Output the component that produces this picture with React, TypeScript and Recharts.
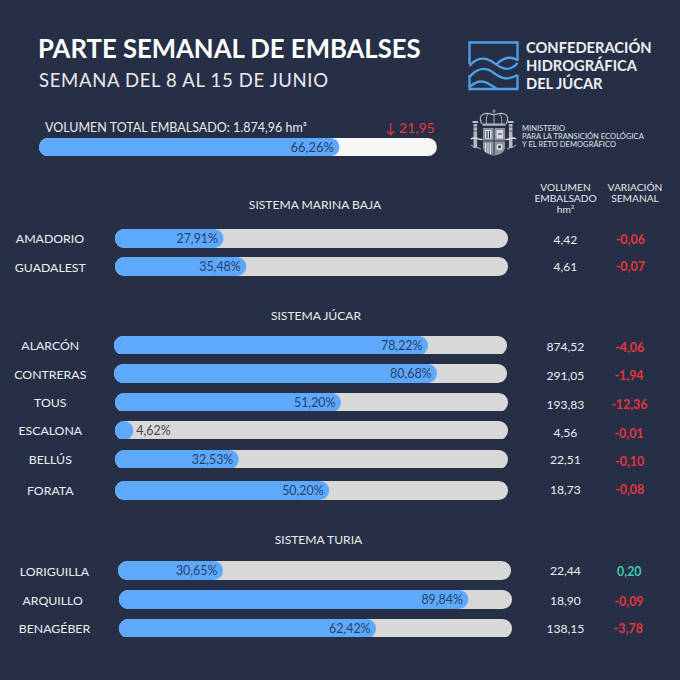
import React from "react";
import { BarChart, Bar, XAxis, YAxis, LabelList } from "recharts";

const FONT = "Lato, 'Open Sans', sans-serif";
const BG = "#272f46";
const BLUE = "#5fa9fc";
const GREY = "#d9d8d8";
const INK = "#243f6e";
const RED = "#e4363c";
const GREEN = "#3ccaa4";
const LOGO = "#4aa3ea";

// Data
const names = ["AMADORIO", "GUADALEST", "ALARCÓN", "CONTRERAS", "TOUS", "ESCALONA", "BELLÚS", "FORATA", "LORIGUILLA", "ARQUILLO", "BENAGÉBER"];
const percentLabels = ["27,91%", "35,48%", "78,22%", "80,68%", "51,20%", "4,62%", "32,53%", "50,20%", "30,65%", "89,84%", "62,42%"];
// Share of the track that each blue fill covers
const fillLengths = [27.6, 33.4, 79.9, 82.2, 57.5, 4.66, 31.5, 54.5, 26.7, 88.9, 65.4];
const volumes = ["4,42", "4,61", "874,52", "291,05", "193,83", "4,56", "22,51", "18,73", "22,44", "18,90", "138,15"];
const variations = ["-0,06", "-0,07", "-4,06", "-1,94", "-12,36", "-0,01", "-0,10", "-0,08", "0,20", "-0,09", "-3,78"];
const totalFillLength = 75.5;
const totalPercentLabel = "66,26%";

// Layout of each row
const barLeft = [114.5, 114.5, 114, 114, 114.5, 114.5, 114.5, 114.5, 118, 118.5, 118.7];
const barTop = [229.3, 257, 335.5, 364.3, 392.7, 420.7, 449.7, 481, 561.3, 590, 618.5];
const barWidth = 393;
const barHeight = 18.5;
const nameCx = [50, 50.3, 50.3, 50.3, 50.3, 50.3, 50.3, 50.3, 54.5, 52.7, 54.5];
const nameBase = [243.3, 271.7, 350, 378.7, 407.3, 435.3, 464, 495.3, 576.3, 604.7, 633];
const volBase = [244.3, 271, 351.3, 380, 408.7, 437.3, 464.3, 494, 575.3, 604.7, 632.7];
const varCx = [630.3, 630.3, 629.7, 629, 629.3, 629, 629.7, 629.7, 629.3, 629, 628.3];
const varBase = [244.3, 271.3, 352.3, 380.3, 409.3, 438, 465.7, 494.3, 576.3, 605.7, 633];

const sections = [
  { label: "SISTEMA MARINA BAJA", cx: 315, base: 209 },
  { label: "SISTEMA JÚCAR", cx: 316, base: 320 },
  { label: "SISTEMA TURIA", cx: 318.5, base: 544 },
];

function Meter({ value, label, left, top, width, height, track, outside, fontSize = 12.4 }: {
  value: number; label: string; left: number; top: number; width: number; height: number; track: string; outside?: boolean; fontSize?: number;
}) {
  const data = [{ name: "v", value, label }];
  return (
    <div style={{ position: "absolute", left, top, width, height }}>
      <BarChart layout="vertical" width={width} height={height} data={data} margin={{ top: 0, right: 0, bottom: 0, left: 0 }} barCategoryGap={0}>
        <XAxis type="number" domain={[0, 100]} hide />
        <YAxis type="category" dataKey="name" hide />
        <Bar dataKey="value" fill={BLUE} radius={height / 2} isAnimationActive={false} background={{ fill: track, radius: height / 2 } as any}>
          <LabelList
            dataKey="label"
            position={outside ? "right" : "insideRight"}
            offset={outside ? 3 : 5.5}
            fontFamily={FONT}
            fontSize={fontSize}
            fill={outside ? "#45464c" : INK}
          />
        </Bar>
      </BarChart>
    </div>
  );
}

function Logo() {
  return (
    <g fill="none" stroke={LOGO} strokeWidth={2.3}>
      <path d="M469.5 64 V42.5 H517.5 V61" />
      <path d="M469.5 66 C476 58 484 57 491 61 C499 66 504 71 511 68 C514 67 516 65 517.5 63" />
      <path d="M496 65 C503 57 510 56 517.5 60" />
      <path d="M469.5 77 C476 69 484 67 491 71 C499 77 506 82 517.5 75" />
      <path d="M469.5 75 V89 H517.5 V75" />
      <path d="M469.5 87 C476 81 483 80 489 84 C491 85 494 87 497 89" />
    </g>
  );
}

function Arms() {
  const c = "#b4b8bf";
  return (
    <g>
      <path d="M482 124 C476 113 487 112 494 115 C501 112 512 113 506 124" fill="none" stroke={c} strokeWidth={1.1} />
      <path d="M494 115 V124 M488 114 C486 117 486 121 486.5 124 M500 114 C502 117 502 121 501.5 124" fill="none" stroke={c} strokeWidth={0.9} />
      <path d="M494 109.5 V114 M492.5 111 H495.5" stroke={c} strokeWidth={0.9} />
      <rect x={482.5} y={123.5} width={23} height={2.2} fill={c} />
      <path d="M483 128 H505 V147 C505 153 499 155 494 155.5 C489 155 483 153 483 147 Z" fill="#8f949e" />
      <rect x={493.6} y={128} width={0.9} height={27} fill={BG} />
      <rect x={483} y={140.5} width={22} height={0.9} fill={BG} />
      <rect x={485} y={130} width={6.5} height={8.5} fill="#d8dadd" />
      <rect x={496.5} y={130} width={6.5} height={8.5} fill="#d8dadd" />
      <path d="M487 131 V138 M489.5 131 V138 M498 134 H502" stroke={BG} strokeWidth={1} />
      <path d="M485.5 143 V152 M488 143 V153 M490.5 143 V154" stroke="#d8dadd" strokeWidth={1} />
      <circle cx={499.5} cy={147} r={3.2} fill="#d8dadd" />
      <circle cx={499.5} cy={147} r={1.4} fill={BG} />
      <rect x={473.5} y={124} width={3.6} height={24} fill={c} />
      <rect x={508.9} y={124} width={3.6} height={24} fill={c} />
      <rect x={472.5} y={121} width={5.6} height={2} fill={c} />
      <rect x={507.9} y={121} width={5.6} height={2} fill={c} />
      <path d="M472.5 127 H478 M508 127 H513.5 M472.5 131 H478 M508 131 H513.5" stroke={BG} strokeWidth={0.7} />
      <path d="M471 139 C476 136 480 141 482.5 139" stroke="#d8dadd" strokeWidth={1.5} fill="none" />
      <path d="M505.5 139 C508 141 512 136 516 139" stroke="#d8dadd" strokeWidth={1.5} fill="none" />
      <path d="M471 145 C474 148 478 147 481 149" stroke={c} strokeWidth={1} fill="none" />
      <path d="M507 149 C510 147 513 148 516 145" stroke={c} strokeWidth={1} fill="none" />
    </g>
  );
}

export default function App() {
  return (
    <div style={{ position: "fixed", left: 0, top: 0, width: 680, height: 680, background: BG, overflow: "hidden", fontFamily: FONT }}>
      <svg width={680} height={680} style={{ position: "absolute", left: 0, top: 0 }} fontFamily={FONT}>
        <text x={38} y={58} fontSize={25.7} fontWeight={700} fill="#ffffff">PARTE SEMANAL DE EMBALSES</text>
        <text x={39} y={86.5} fontSize={18.5} fontWeight={400} fill="#e9ebef" letterSpacing={0.68}>SEMANA DEL 8 AL 15 DE JUNIO</text>
        <text x={45} y={131.5} fontSize={12.5} fill="#e9ebef">VOLUMEN TOTAL EMBALSADO: 1.874,96 hm³</text>
        <text x={385} y={132.5} fontSize={14} fill={RED}>↓ 21,95</text>

        <Logo />
        <text x={526} y={53} fontSize={14.7} fontWeight={700} fill="#eef0f3">CONFEDERACIÓN</text>
        <text x={526} y={70.8} fontSize={14.7} fontWeight={700} fill="#eef0f3">HIDROGRÁFICA</text>
        <text x={526} y={88.6} fontSize={14.7} fontWeight={700} fill="#eef0f3">DEL JÚCAR</text>

        <Arms />
        <text x={522} y={130.6} fontSize={7.6} fill="#dfe1e5">MINISTERIO</text>
        <text x={522} y={139} fontSize={7.6} fill="#dfe1e5">PARA LA TRANSICIÓN ECOLÓGICA</text>
        <text x={522} y={147.4} fontSize={7.6} fill="#dfe1e5">Y EL RETO DEMOGRÁFICO</text>

        <g fontSize={10.2} fill="#e3e5e9" textAnchor="middle">
          <text x={565.5} y={191}>VOLUMEN</text>
          <text x={565.5} y={202}>EMBALSADO</text>
          <text x={565.5} y={212.7}>hm³</text>
          <text x={635} y={191}>VARIACIÓN</text>
          <text x={635} y={202}>SEMANAL</text>
        </g>

        {sections.map((s) => (
          <text key={s.label} x={s.cx} y={s.base} fontSize={12.1} fill="#e9ebef" textAnchor="middle">{s.label}</text>
        ))}

        {names.map((n, i) => (
          <text key={n} x={nameCx[i]} y={nameBase[i]} fontSize={12.3} fill="#eceef1" textAnchor="middle">{n}</text>
        ))}
        {volumes.map((v, i) => (
          <text key={names[i]} x={565.3} y={volBase[i]} fontSize={12.1} fill="#eceef1" textAnchor="middle">{v}</text>
        ))}
        {variations.map((v, i) => (
          <text key={names[i]} x={varCx[i]} y={varBase[i]} fontSize={12.4} fontWeight={700} fill={v.startsWith("-") ? RED : GREEN} textAnchor="middle">{v}</text>
        ))}
      </svg>

      <Meter value={totalFillLength} label={totalPercentLabel} left={39} top={138.3} width={398} height={17.7} track="#f6f6f7" fontSize={13} />
      {names.map((n, i) => (
        <Meter
          key={n}
          value={fillLengths[i]}
          label={percentLabels[i]}
          left={barLeft[i]}
          top={barTop[i]}
          width={barWidth}
          height={barHeight}
          track={GREY}
          outside={fillLengths[i] < 10}
        />
      ))}
    </div>
  );
}
